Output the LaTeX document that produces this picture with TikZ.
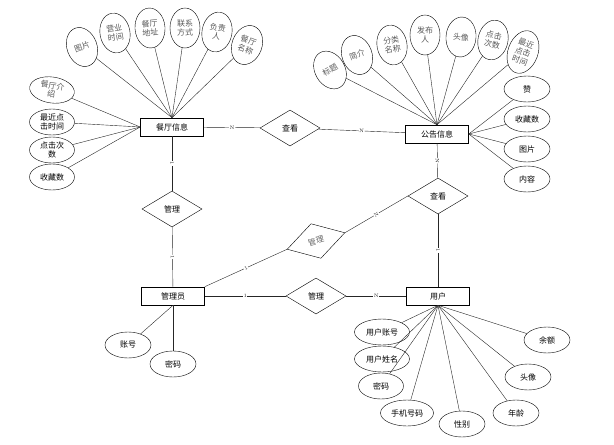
\documentclass[tikz,border=0pt]{standalone}
\usepackage{fontspec}
\newfontfamily\cjk{Noto Sans CJK SC}
\usetikzlibrary{shapes.geometric}
\begin{document}
\begin{tikzpicture}
    [x=1pt,y=-1pt,font=\cjk\fontsize{8}{9}\selectfont,
     ent/.style={draw,semithick,minimum width=63pt,minimum height=18pt,inner sep=0pt},
     rel/.style={diamond,draw,aspect=1.65,minimum width=60pt,minimum height=36pt,inner sep=0pt},
     attr/.style={ellipse,draw,minimum width=46pt,minimum height=26pt,inner sep=0pt,align=center},
     tall/.style={ellipse,draw,minimum width=30pt,minimum height=40pt,inner sep=0pt,align=center,text=black!65},
     con/.style={draw,black!85},
     card/.style={font=\fontsize{5}{5}\selectfont,inner sep=0.4pt,fill=white,sloped}]
    \useasboundingbox (0,0) rectangle (614,445);
    % entities and relations
    \node [ent] (rest) at (172,127) {餐厅信息};
    \node [ent] (notice) at (437,134) {公告信息};
    \node [ent] (admin) at (173,296) {管理员};
    \node [ent] (user) at (438,296) {用户};
    \node [rel] (view1) at (290,128) {查看};
    \node [rel] (view2) at (438,196) {查看};
    \node [rel] (manage1) at (172,209) {管理};
    \node [rel,rotate=16,text=black!60] (manage2) at (316,241) {管理};
    \node [rel] (manage3) at (316,296) {管理};
    \draw [con] (rest) -- node[card]{N} (view1);
    \draw [con] (view1) -- node[card]{N} (notice);
    \draw [con] (rest) -- node[card]{1} (manage1);
    \draw [con] (manage1) -- node[card]{1} (admin);
    \draw [con] (notice) -- node[card]{N} (view2);
    \draw [con] (view2) -- node[card]{1} (user);
    \draw [con] (view2.west) -- node[card]{N} (manage2.east);
    \draw [con] (admin.north east) -- node[card]{1} (manage2.west);
    \draw [con] (admin) -- node[card]{1} (manage3);
    \draw [con] (manage3) -- node[card]{N} (user);
    % attributes of rest
    \node [tall,rotate=20] (r1) at (82,47) {图片} edge [con] (rest.north);
    \node [tall,rotate=10] (r2) at (115,33) {营业\\时间} edge [con] (rest.north);
    \node [tall,rotate=4] (r3) at (150,28) {餐厅\\地址} edge [con] (rest.north);
    \node [tall] (r4) at (185,28) {联系\\方式} edge [con] (rest.north);
    \node [tall,rotate=-10] (r5) at (217,32) {负责\\人} edge [con] (rest.north);
    \node [tall,rotate=-20] (r6) at (247,45) {餐厅\\名称} edge [con] (rest.north);
    \node [attr,rotate=-8,minimum width=45pt,text=black!65] (r7) at (52,90) {餐厅介\\绍} edge [con] (rest.west);
    \node [attr,minimum width=45pt] (r8) at (52,122) {最近点\\击时间} edge [con] (rest.west);
    \node [attr,minimum width=45pt] (r9) at (52,150) {点击次\\数} edge [con] (rest.west);
    \node [attr,minimum width=45pt] (r10) at (52,177) {收藏数} edge [con] (rest.west);
    % attributes of notice
    \node [tall,rotate=30] (n1) at (330,70) {标题} edge [con] (notice.north);
    \node [tall,rotate=20] (n2) at (357,55) {简介} edge [con] (notice.north);
    \node [tall,rotate=10] (n3) at (392,45) {分类\\名称} edge [con] (notice.north);
    \node [tall] (n4) at (425,35) {发布\\人} edge [con] (notice.north);
    \node [tall,rotate=-5] (n5) at (461,37) {头像} edge [con] (notice.north);
    \node [tall,rotate=-12] (n6) at (493,40) {点击\\次数} edge [con] (notice.north);
    \node [tall,rotate=-20,minimum height=44pt] (n7) at (523,52) {最近\\点击\\时间} edge [con] (notice.north);
    \node [attr] (n8) at (527,89) {赞} edge [con] (notice.east);
    \node [attr] (n9) at (527,119) {收藏数} edge [con] (notice.east);
    \node [attr] (n10) at (527,149) {图片} edge [con] (notice.east);
    \node [attr] (n11) at (527,179) {内容} edge [con] (notice.east);
    % attributes of admin
    \node [attr] (a1) at (128,345) {账号} edge [con] (admin.south);
    \node [attr] (a2) at (173,364) {密码} edge [con] (admin.south);
    % attributes of user
    \node [attr,minimum width=55pt] (u1) at (382,332) {用户账号} edge [con] (user.south);
    \node [attr,minimum width=55pt] (u2) at (382,359) {用户姓名} edge [con] (user.south);
    \node [attr,minimum width=45pt] (u3) at (381,386) {密码} edge [con] (user.south);
    \node [attr,minimum width=53pt] (u4) at (407,413) {手机号码} edge [con] (user.south);
    \node [attr] (u5) at (462,424) {性别} edge [con] (user.south);
    \node [attr] (u6) at (516,413) {年龄} edge [con] (user.south);
    \node [attr] (u7) at (528,377) {头像} edge [con] (user.south);
    \node [attr] (u8) at (547,340) {余额} edge [con] (user.south);
\end{tikzpicture}
\end{document}
